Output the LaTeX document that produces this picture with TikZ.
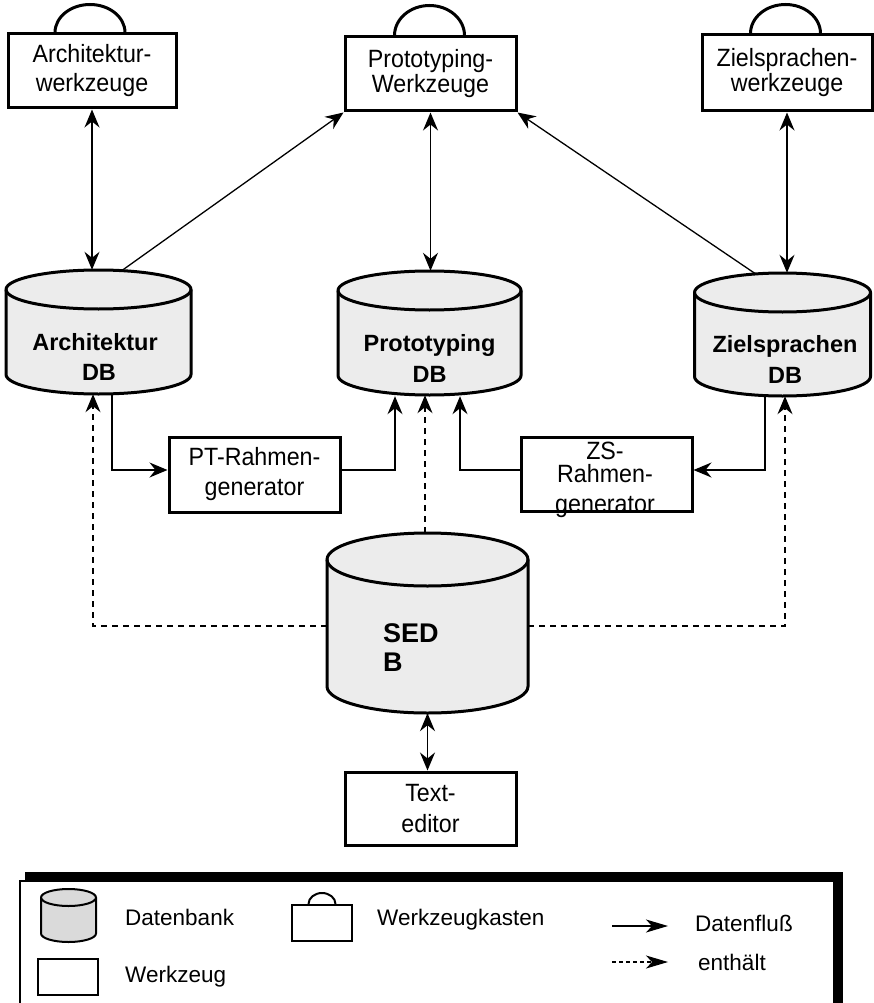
\documentclass[tikz,border=0pt]{standalone}
\usepackage{fontspec}
\setmainfont{Liberation Sans}
\newfontfamily\boxfont[FakeStretch=0.93]{Liberation Sans}
\usetikzlibrary{arrows.meta}
\definecolor{dbgray}{RGB}{236,236,236}
\definecolor{lggray}{RGB}{218,218,218}

% cylinder: name, cx, y top, y bottom, x radius, y radius, style
\newcommand\dbcyl[7]{%
  \filldraw[#7] ({#2-#5},{-(#3+#6)}) -- ({#2-#5},{-(#4-#6)})
    arc[start angle=180,end angle=360,x radius=#5,y radius=#6]
    -- ({#2+#5},{-(#3+#6)})
    arc[start angle=0,end angle=180,x radius=#5,y radius=#6] -- cycle;
  \draw[#7,fill=none] ({#2+#5},{-(#3+#6)})
    arc[start angle=0,end angle=-180,x radius=#5,y radius=#6];
  \node[inner sep=0pt,minimum width={2*#5},minimum height={#4-#3}] (#1) at (#2,{-(#3+#4)/2}) {};
}

\tikzset{
  tool/.style={draw,line width=3pt,minimum width=171pt,minimum height=75pt,inner sep=0pt,
    align=center,font=\boxfont\fontsize{25}{25}\selectfont},
  handle/.style={line width=3pt},
  dbshape/.style={fill=dbgray,draw,line width=3pt},
  lgshape/.style={fill=lggray,draw,line width=2pt},
  dbtext/.style={anchor=base,inner sep=0pt,font=\fontsize{23.5}{28}\selectfont\bfseries},
  lgtext/.style={anchor=base west,inner sep=0pt,font=\fontsize{22.5}{26}\selectfont},
  tip/.tip={Stealth[length=18pt,width=15pt,inset=6pt]},
  smalltip/.tip={Stealth[length=22pt,width=13pt,inset=6pt]},
  flow/.style={line width=1.3pt,-tip},
  dflow/.style={line width=1.3pt,tip-tip},
  contains/.style={line width=1.2pt,dash pattern=on 6pt off 5pt,-tip},
}

\begin{document}
\begin{tikzpicture}[x=1pt,y=1pt]
\useasboundingbox (0,0) rectangle (874,-1003);

% tool boxes
\node[tool,minimum width=168pt,minimum height=74pt,font=\boxfont\fontsize{25}{29}\selectfont] (akw) at (92,-71) {Architektur-\\werkzeuge};
\draw[handle] ([xshift=-37pt]akw.north) arc[start angle=180,end angle=0,x radius=35,y radius=28];

\node[tool,minimum height=74pt] (pkw) at (430.5,-74) {Prototyping-\\Werkzeuge};
\draw[handle] ([xshift=-36pt]pkw.north) arc[start angle=180,end angle=0,x radius=35,y radius=30];

\node[tool,minimum width=170pt,minimum height=76pt] (zkw) at (787,-73) {Zielsprachen-\\werkzeuge};
\draw[handle] ([xshift=-36.5pt]zkw.north) arc[start angle=180,end angle=0,x radius=35,y radius=29];

% databases
\dbcyl{adb}{98.5}{270}{394}{92.5}{19.5}{dbshape}
\dbcyl{pdb}{429.5}{271}{395}{91.5}{19.5}{dbshape}
\dbcyl{zdb}{782.5}{273}{396}{88}{19.5}{dbshape}
\dbcyl{sedb}{427.5}{533}{713}{100.5}{26.5}{dbshape}

\node[dbtext] (adbt1) at (95,-350) {Architektur};
\node[dbtext] (adbt2) at (99,-380) {DB};
\node[dbtext] (pdbt1) at (429.5,-351) {Prototyping};
\node[dbtext] (pdbt2) at (429.5,-382) {DB};
\node[dbtext] (zdbt1) at (785,-352) {Zielsprachen};
\node[dbtext] (zdbt2) at (785,-383) {DB};
\node[dbtext,anchor=base west,font=\fontsize{27}{29}\selectfont\bfseries] (sedbt1) at (383,-642) {SED};
\node[dbtext,anchor=base west,font=\fontsize{27}{29}\selectfont\bfseries] (sedbt2) at (383,-671) {B};

% generators and editor
\node[tool,font=\boxfont\fontsize{25}{30}\selectfont] (ptg) at (254.5,-474.5) {PT-Rahmen-\\generator};
\node[tool,minimum height=74pt] (zsg) at (606.5,-474) {};
\node[anchor=base,inner sep=0pt,font=\boxfont\fontsize{25}{25}\selectfont] (zsg1) at (605,-459) {ZS-};
\node[anchor=base,inner sep=0pt,font=\boxfont\fontsize{25}{25}\selectfont] (zsg2) at (605,-482) {Rahmen-};
\node[anchor=base,inner sep=0pt,font=\boxfont\fontsize{25}{25}\selectfont] (zsg3) at (605,-512) {generator};
\node[tool,minimum height=73pt,font=\boxfont\fontsize{25}{31}\selectfont] (ted) at (430.5,-808.5) {Text-\\editor};

% data flow
\draw[dflow] (akw.south) -- (akw.south |- adb.north);
\draw[dflow] (pkw.south) -- (pkw.south |- pdb.north);
\draw[dflow] (zkw.south) -- (zkw.south |- zdb.north);
\draw[flow] ([xshift=23pt,yshift=-1pt]adb.north) -- (pkw.south west);
\draw[flow] ([xshift=-27pt,yshift=-1pt]zdb.north) -- (pkw.south east);
\draw[flow] ([xshift=13.5pt]adb.south) |- ([yshift=4.5pt]ptg.west);
\draw[flow,shorten >=1pt] ([yshift=4.5pt]ptg.east) -| ([xshift=-34.5pt]pdb.south);
\draw[flow] ([xshift=-17.5pt]zdb.south) |- ([yshift=4pt]zsg.east);
\draw[flow,shorten >=1pt] ([yshift=4pt]zsg.west) -| ([xshift=30.5pt]pdb.south);
\draw[dflow] (sedb.south) -- (sedb.south |- ted.north);

% containment
\draw[contains] ([yshift=-3pt]sedb.west) -| ([xshift=-5.5pt]adb.south);
\draw[contains] ([yshift=-3pt]sedb.east) -| ([xshift=2.5pt]zdb.south);
\draw[contains] ([xshift=-2.5pt]sedb.north) -- ([xshift=-2.5pt]sedb.north |- pdb.south);

% legend frame with shadow
\fill[black] (25,-872) rectangle (843,-1010);
\draw[fill=white,line width=1.3pt] (20,-881) rectangle (834,-1010);

\dbcyl{lgdb}{68.5}{889}{942}{27.5}{8.5}{lgshape}
\node[lgtext] (lgdbt) at (125,-925) {Datenbank};
\node[draw,line width=2pt,minimum width=60pt,minimum height=36pt,inner sep=0pt] (lgtool) at (68,-977) {};
\node[lgtext] (lgtoolt) at (125,-982) {Werkzeug};
\node[draw,line width=2pt,minimum width=60pt,minimum height=36pt,inner sep=0pt] (lgkit) at (322,-923) {};
\draw[line width=2pt] ([xshift=-13.5pt]lgkit.north) arc[start angle=180,end angle=0,x radius=13.5,y radius=11];
\node[lgtext] (lgkitt) at (377,-925) {Werkzeugkasten};
\coordinate (lgf1) at (612,-926);
\coordinate (lgf2) at (668,-926);
\draw[line width=1.3pt,-smalltip] (lgf1) -- (lgf2);
\node[lgtext] (lgflowt) at (695,-931) {Datenfluß};
\coordinate (lgc1) at (612,-962);
\coordinate (lgc2) at (668,-962);
\draw[line width=1.2pt,dash pattern=on 4pt off 3pt,-smalltip] (lgc1) -- (lgc2);
\node[lgtext] (lgcontt) at (698,-970) {enthält};
\end{tikzpicture}
\end{document}
